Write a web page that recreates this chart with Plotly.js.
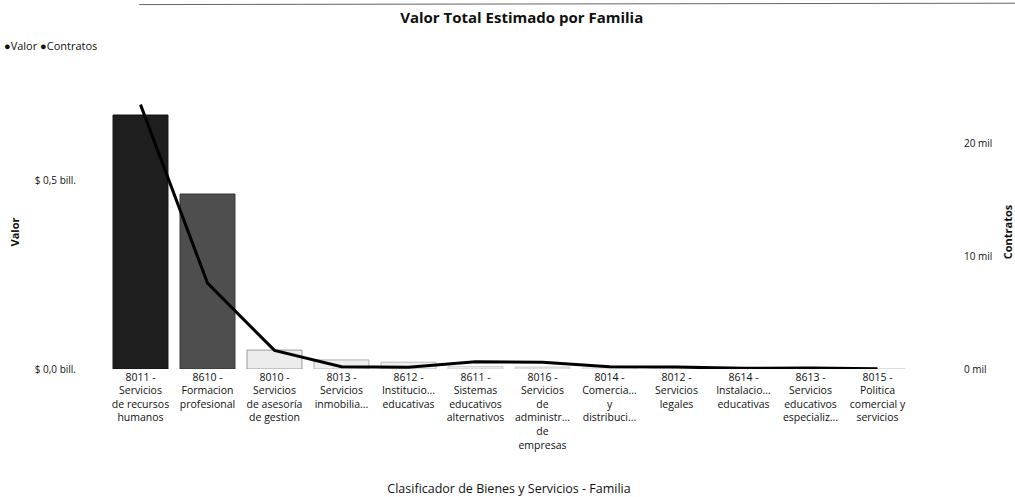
<!DOCTYPE html>
<html>
<head>
<meta charset="utf-8">
<script src="https://cdn.plot.ly/plotly-3.0.1.min.js"></script>
<style>html,body{margin:0;padding:0;background:#fff;}#chart{width:1015px;height:497px;}</style>
</head>
<body>
<div id="chart"></div>
<script>
// Categories (tick labels)
var categories = [
  "8011 -<br>Servicios<br>de recursos<br>humanos",
  "8610 -<br>Formacion<br>profesional",
  "8010 -<br>Servicios<br>de asesoría<br>de gestion",
  "8013 -<br>Servicios<br>inmobilia...",
  "8612 -<br>Institucio...<br>educativas",
  "8611 -<br>Sistemas<br>educativos<br>alternativos",
  "8016 -<br>Servicios<br>de<br>administr...<br>de<br>empresas",
  "8014 -<br>Comercia...<br>y<br>distribuci...",
  "8012 -<br>Servicios<br>legales",
  "8614 -<br>Instalacio...<br>educativas",
  "8613 -<br>Servicios<br>educativos<br>especializ...",
  "8015 -<br>Politica<br>comercial y<br>servicios"
];
// Valor (pesos)
var valor = [0.672e12, 0.463e12, 0.05e12, 0.024e12, 0.018e12, 0.006e12, 0.005e12, 0.003e12, 0.002e12, 0.002e12, 0.001e12, 0.001e12];
// Contratos (count)
var contratos = [23400, 7600, 1650, 200, 150, 650, 600, 200, 170, 60, 80, 20];
// Axis tick labels
var leftTickVals = [0, 0.5e12];
var leftTickText = ["$ 0,0 bill.", "$ 0,5 bill."];
var rightTickVals = [0, 10000, 20000];
var rightTickText = ["0 mil", "10 mil", "20 mil"];

var barColors = ["#1e1e1e", "#4e4e4e", "#ececec", "#eeeeee", "#efefef", "#f2f2f2", "#f2f2f2", "#f4f4f4", "#f4f4f4", "#f4f4f4", "#f4f4f4", "#f4f4f4"];
var barLines = ["#111", "#333", "#9a9a9a", "#b0b0b0", "#bbbbbb", "#cccccc", "#cccccc", "#dddddd", "#dddddd", "#dddddd", "#dddddd", "#dddddd"];

var font = "Open Sans, Noto Sans, sans-serif";

var traces = [
  {
    type: "bar", name: "Valor", x: categories, y: valor,
    marker: {color: barColors, line: {color: barLines, width: 1}},
    yaxis: "y", showlegend: false, hoverinfo: "x+y"
  },
  {
    type: "scatter", mode: "lines", name: "Contratos", x: categories, y: contratos,
    line: {color: "#000", width: 3}, yaxis: "y2", showlegend: false
  }
];

var layout = {
  width: 1015, height: 497,
  margin: {l: 107, r: 104, t: 95, b: 128},
  paper_bgcolor: "#fff", plot_bgcolor: "#fff",
  font: {family: font, color: "#111", size: 10},
  title: {text: "<b>Valor Total Estimado por Familia</b>", x: 0.514, xanchor: "center", y: 0.965, yanchor: "middle", font: {size: 15, family: font, color: "#111"}},
  bargap: 0.18,
  xaxis: {
    type: "category", showgrid: false, zeroline: false, showline: false, ticks: "",
    tickangle: 0, tickfont: {size: 10.5, family: font, color: "#111"},
    automargin: false,
    title: {text: "Clasificador de Bienes y Servicios - Familia", font: {size: 12.5, family: font, color: "#111"}, standoff: 33}
  },
  yaxis: {
    range: [0, 0.725e12], tickvals: leftTickVals, ticktext: leftTickText,
    showgrid: false, zeroline: false, showline: false, ticks: "",
    tickfont: {size: 10, family: font, color: "#111"}, ticklabelstandoff: 30,
    automargin: false,
    title: {text: "<b>Valor</b>", font: {size: 11, family: font, color: "#111"}, standoff: 12}
  },
  yaxis2: {
    overlaying: "y", side: "right", range: [0, 24250],
    tickvals: rightTickVals, ticktext: rightTickText,
    showgrid: false, zeroline: false, showline: false, ticks: "",
    tickfont: {size: 10, family: font, color: "#111"}, ticklabelstandoff: 52,
    automargin: false,
    title: {text: "<b>Contratos</b>", font: {size: 11, family: font, color: "#111"}, standoff: 14}
  },
  annotations: [
    {xref: "paper", yref: "paper", x: -0.13, y: 1.182, xanchor: "left", yanchor: "middle", showarrow: false,
     text: "●Valor ●Contratos", font: {size: 11, family: font, color: "#111"}}
  ],
  shapes: [
    {type: "line", xref: "paper", yref: "paper", x0: 0.04, x1: 1.13, y0: 1.33, y1: 1.335, line: {color: "#666", width: 1}}
  ]
};

Plotly.newPlot("chart", traces, layout, {displayModeBar: false, staticPlot: true});
</script>
</body>
</html>
